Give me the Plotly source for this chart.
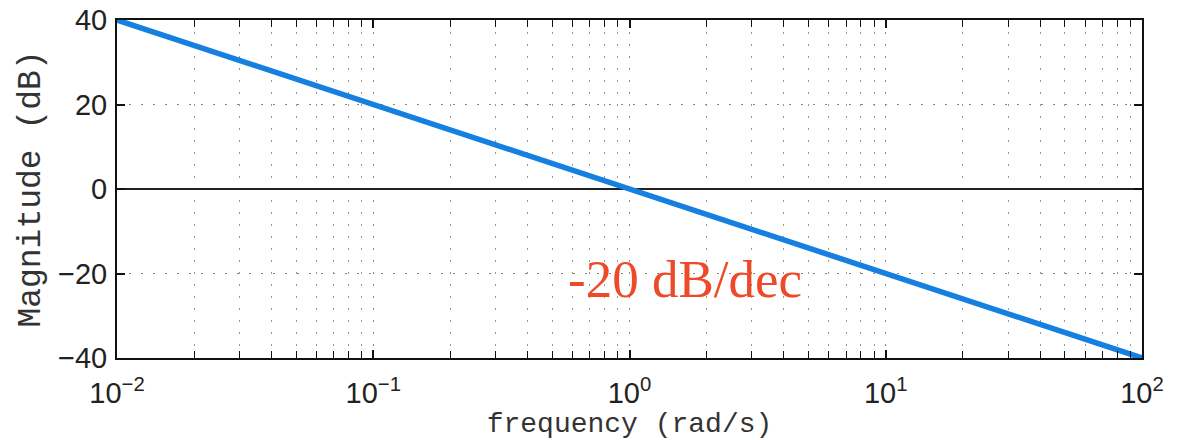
import plotly.graph_objects as go

# data
frequency = [0.01, 100]
magnitude_db = [40, -40]
x_tick_vals = [0.01, 0.1, 1, 10, 100]
x_tick_text = ["10<sup>−2</sup>", "10<sup>−1</sup>", "10<sup>0</sup>", "10<sup>1</sup>", "10<sup>2</sup>"]
x_minor_vals = [m * d for d in [0.01, 0.1, 1, 10] for m in range(2, 10)]
y_tick_vals = [-40, -20, 0, 20, 40]
y_tick_text = ["−40", "−20", "0", "20", "40"]
annotation_text = "-20 dB/dec"
annotation_logx = 0.217
annotation_y = -21.3

fig = go.Figure()
fig.add_trace(go.Scatter(
    x=frequency, y=magnitude_db, mode="lines",
    line=dict(color="#1580E0", width=5.5),
    showlegend=False,
))

grid_dash = "2px,10px"
tick_font = dict(family="Liberation Sans, Arial, sans-serif", size=29, color="#222")
fig.update_xaxes(
    type="log", range=[-2, 2], automargin=False,
    tickmode="array", tickvals=x_tick_vals, ticktext=x_tick_text,
    ticks="inside", ticklen=8, tickwidth=1.5, tickcolor="#111",
    showline=True, linecolor="#111", linewidth=2, mirror="allticks",
    showgrid=True, gridcolor="#888", griddash=grid_dash, gridwidth=1,
    minor=dict(tickmode="array", tickvals=x_minor_vals,
               ticks="inside", ticklen=7, tickcolor="#111", tickwidth=1.2,
               showgrid=True, gridcolor="#999", griddash=grid_dash, gridwidth=1),
    tickfont=tick_font,
    ticklabelstandoff=8,
    ticklabeloverflow="allow",
    title=dict(text="frequency (rad/s)", standoff=4,
               font=dict(family="Liberation Mono, DejaVu Sans Mono, monospace", size=28, color="#333")),
    zeroline=False,
)
fig.update_yaxes(
    range=[-40, 40], automargin=False,
    tickmode="array", tickvals=y_tick_vals, ticktext=y_tick_text,
    ticks="inside", ticklen=8, tickwidth=1.5, tickcolor="#111",
    showline=True, linecolor="#111", linewidth=2, mirror="allticks",
    showgrid=True, gridcolor="#888", griddash=grid_dash, gridwidth=1,
    zeroline=True, zerolinecolor="#222", zerolinewidth=2,
    tickfont=tick_font,
    ticklabelstandoff=2,
    ticklabeloverflow="allow",
    title=dict(text="Magnitude (dB)", standoff=7,
               font=dict(family="Liberation Mono, DejaVu Sans Mono, monospace", size=33, color="#333")),
)
fig.add_annotation(
    x=annotation_logx, y=annotation_y, xref="x", yref="y",
    text=annotation_text, showarrow=False,
    font=dict(family="Liberation Serif, Times New Roman, serif", size=53, color="#EE4A2A"),
)
fig.update_layout(
    width=1179, height=440,
    margin=dict(l=117, r=37, t=20, b=82),
    plot_bgcolor="white", paper_bgcolor="white",
)
fig.write_html(
    "out.html",
    config={"displayModeBar": False},
    post_script="document.body.style.margin='0';document.body.style.overflow='hidden';",
)
